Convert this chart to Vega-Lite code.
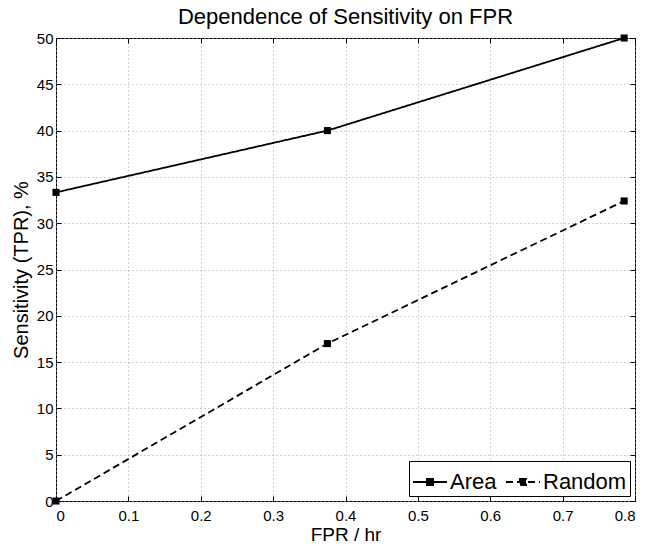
{
  "$schema": "https://vega.github.io/schema/vega-lite/v6.json",
  "width": 579,
  "height": 463,
  "autosize": {"type": "none"},
  "padding": {"left": 56, "top": 38, "right": 13, "bottom": 45},
  "background": "white",
  "title": {"text": "Dependence of Sensitivity on FPR", "fontSize": 22, "font": "Liberation Sans", "fontWeight": "normal", "color": "black", "offset": 2},
  "config": {
    "view": {"stroke": "black", "strokeWidth": 1},
    "font": "Liberation Sans",
    "axis": {
      "domain": false,
      "tickColor": "black",
      "tickSize": -5,
      "labelPadding": 8,
      "labelFontSize": 15,
      "labelColor": "black",
      "labelFont": "Liberation Sans",
      "titleFont": "Liberation Sans",
      "titleFontSize": 19,
      "titleFontWeight": "normal",
      "titleColor": "black",
      "gridColor": "#a0a0a0",
      "gridDash": [1, 3],
      "gridOpacity": 1,
      "gridWidth": 1
    }
  },
  "data": {
    "values": [
      {"fpr": 0, "tpr": 33.33, "series": "Area"},
      {"fpr": 0.375, "tpr": 40, "series": "Area"},
      {"fpr": 0.785, "tpr": 50, "series": "Area"},
      {"fpr": 0, "tpr": 0, "series": "Random"},
      {"fpr": 0.375, "tpr": 17.0, "series": "Random"},
      {"fpr": 0.785, "tpr": 32.4, "series": "Random"}
    ]
  },
  "layer": [
    {
      "mark": {"type": "line", "color": "black", "strokeWidth": 1.8, "clip": false},
      "encoding": {
        "x": {"field": "fpr", "type": "quantitative", "scale": {"domain": [0, 0.8], "nice": false},
              "axis": {"title": "FPR / hr", "values": [0, 0.1, 0.2, 0.3, 0.4, 0.5, 0.6, 0.7, 0.8], "format": "~g", "grid": true, "labelPadding": 12, "titlePadding": 2}},
        "y": {"field": "tpr", "type": "quantitative", "scale": {"domain": [0, 50], "nice": false},
              "axis": {"title": "Sensitivity (TPR), %", "titleFontSize": 20, "values": [0, 5, 10, 15, 20, 25, 30, 35, 40, 45, 50], "grid": true, "titlePadding": 5}},
        "strokeDash": {
          "field": "series", "type": "nominal",
          "scale": {"domain": ["Area", "Random"], "range": [[1, 0], [7, 4]]},
          "legend": {
            "title": null,
            "orient": "bottom-right",
            "offset": 5,
            "direction": "horizontal",
            "strokeColor": "black",
            "fillColor": "white",
            "padding": 3,
            "labelFontSize": 22,
            "labelFont": "Liberation Sans",
            "labelColor": "black",
            "labelOffset": 2,
            "columnPadding": 5,
            "symbolType": "M-1,0L1,0M-0.18,-0.18L0.18,-0.18L0.18,0.18L-0.18,0.18Z",
            "symbolSize": 1156,
            "symbolStrokeWidth": 1.8,
            "symbolStrokeColor": "black",
            "symbolFillColor": "black",
            "symbolOpacity": 1
          }
        }
      }
    },
    {
      "mark": {"type": "point", "shape": "square", "filled": true, "color": "black", "size": 50, "opacity": 1, "clip": false},
      "encoding": {
        "x": {"field": "fpr", "type": "quantitative", "scale": {"domain": [0, 0.8], "nice": false},
              "axis": {"orient": "top", "title": null, "labels": false, "grid": false, "values": [0, 0.1, 0.2, 0.3, 0.4, 0.5, 0.6, 0.7, 0.8]}},
        "y": {"field": "tpr", "type": "quantitative", "scale": {"domain": [0, 50], "nice": false},
              "axis": {"orient": "right", "title": null, "labels": false, "grid": false, "values": [0, 5, 10, 15, 20, 25, 30, 35, 40, 45, 50]}}
      }
    }
  ],
  "resolve": {"axis": {"x": "independent", "y": "independent"}}
}
